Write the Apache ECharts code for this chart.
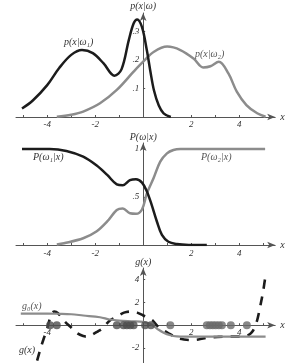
<!DOCTYPE html>
<html>
<head>
<meta charset="utf-8">
<script src="https://cdn.jsdelivr.net/npm/echarts@6/dist/echarts.min.js"></script>
<style>html,body{margin:0;padding:0;background:#fff}#c{width:291px;height:363px}</style>
</head>
<body>
<div id="c"></div>
<script>
// Panel 1: class-conditional densities
const p1X = [-5.05,-4.6,-4.0,-3.5,-3.0,-2.55,-2.1,-1.65,-1.2,-0.9,-0.6,-0.4,-0.25,-0.05,0.15,0.3,0.45,0.65,0.85,1.15];
const p1Y = [0.03,0.058,0.112,0.172,0.218,0.235,0.224,0.188,0.145,0.168,0.27,0.328,0.342,0.315,0.235,0.16,0.093,0.04,0.013,0.0];
const p2X = [-3.6,-3.0,-2.5,-1.8,-1.1,-0.4,0.0,0.45,1.0,1.55,2.1,2.5,2.8,3.15,3.55,3.9,4.3,4.75,5.1];
const p2Y = [0.001,0.008,0.019,0.048,0.095,0.159,0.194,0.229,0.247,0.235,0.205,0.174,0.178,0.194,0.153,0.089,0.042,0.013,0.001];
// Panel 2: posteriors
const post1X = [-5.05,-3.9,-3.2,-2.5,-1.95,-1.5,-1.1,-0.85,-0.55,-0.3,-0.05,0.15,0.35,0.57,0.78,1.05,1.4,1.9,2.65];
const post1Y = [1.0,1.0,0.98,0.92,0.83,0.73,0.632,0.622,0.675,0.685,0.65,0.56,0.42,0.245,0.105,0.034,0.01,0.001,0];
const post2X = [-3.6,-3.3,-2.5,-1.95,-1.5,-1.1,-0.85,-0.55,-0.3,-0.05,0.15,0.43,0.71,0.99,1.26,1.55,2.5,5.08];
const post2Y = [0.005,0.018,0.07,0.14,0.245,0.365,0.38,0.33,0.325,0.37,0.535,0.695,0.868,0.955,0.99,1.0,1.0,1.0];
// Panel 3: discriminants and samples
const g0X = [-5.1,-4.0,-3.5,-3.0,-2.5,-1.8,-1.4,-1.0,-0.5,0.0,0.3,0.57,0.85,1.13,1.4,1.7,2.2,3.0,5.1];
const g0Y = [1.02,1.02,1.0,0.96,0.85,0.7,0.5,0.4,0.34,0.29,0.1,-0.29,-0.65,-0.87,-0.97,-1.0,-1.0,-1.0,-1.0];
const gX = [-4.42,-4.3,-4.15,-4.02,-3.9,-3.8,-3.7,-3.55,-3.3,-3.0,-2.75,-2.5,-2.3,-2.1,-1.9,-1.7,-1.4,-1.1,-0.8,-0.5,-0.25,0.0,0.2,0.4,0.65,0.9,1.1,1.4,1.7,2.0,2.3,2.7,3.1,3.5,3.9,4.2,4.4,4.55,4.68,4.78,4.9,5.0,5.1];
const gY = [-3.1,-2.2,-1.2,-0.45,0.5,1.05,1.2,1.05,0.4,-0.2,-0.7,-0.95,-1.0,-0.8,-0.55,-0.28,0.4,0.75,1.1,1.2,1.1,0.85,0.65,0.4,-0.2,-0.5,-0.75,-1.1,-1.25,-1.3,-1.25,-1.08,-1.02,-1.0,-1.0,-0.98,-0.85,-0.55,0.0,0.7,1.9,3.0,4.4];
const samples1 = [-3.88,-3.6,-1.1,-0.82,-0.68,-0.54,-0.4,0.08,0.32];
const samples2 = [1.13,2.65,2.78,2.9,3.02,3.15,3.28,3.65,4.32];
// tick labels
const xLabels12 = [-4,-2,2,4];
const xLabels3 = [-4,2,4];
const yLabels1 = [0.1,0.2,0.3];
const yLabels2 = [0.5,1];
const yLabels3 = [-2,2,4];

const pairs = (xs, ys) => xs.map((x,i)=>[x, ys[i]]);
const BLACK = '#1c1c1c', GRAY = '#8c8c8c', AX = '#555';
const FONT = {fontFamily:'Liberation Serif', fontStyle:'italic', color:'#333'};
const fmtDot = v => { const s = String(v); return s.startsWith('0.') ? s.slice(1) : s; };

// layout: x from -5.3 to 5.5 across 16..275.2 px
const GL = 16, GR = 15.8, XMIN = -5.3, XMAX = 5.5;
const Y_OFFSET = -(291 - GL - GR) * (0 - XMIN) / (XMAX - XMIN); // move y axes to x = 0

function xAxis(gi, labels, margin, offset) {
  return {
    type:'value', gridIndex:gi, min:XMIN, max:XMAX, position:'bottom', offset:offset||0,
    name:'x', nameLocation:'end', nameGap:5,
    nameTextStyle:Object.assign({fontSize:10}, FONT),
    axisLine:{onZero:false, lineStyle:{color:AX, width:1}, symbol:['none','arrow'], symbolSize:[5,8]},
    axisTick:{show:true, customValues:[-5,-4,-3,-2,-1,1,2,3,4,5], length:2, inside:true, lineStyle:{color:AX}},
    axisLabel:Object.assign({customValues:labels, fontSize:9, margin:margin}, FONT),
    splitLine:{show:false}
  };
}
function yAxis(gi, min, max, labels, name, gap) {
  return {
    type:'value', gridIndex:gi, min:min, max:max, position:'left', offset:Y_OFFSET,
    name:name, nameLocation:'end', nameGap:gap,
    nameTextStyle:Object.assign({fontSize:10, align:'center'}, FONT),
    axisLine:{onZero:false, lineStyle:{color:AX, width:1}, symbol:['none','arrow'], symbolSize:[5,8]},
    axisTick:{show:true, customValues:labels, length:2, inside:true, lineStyle:{color:AX}},
    axisLabel:Object.assign({customValues:labels, fontSize:9, margin:4, formatter:fmtDot}, FONT),
    splitLine:{show:false}
  };
}
function line(xi, data, color, w, extra) {
  return Object.assign({
    type:'line', xAxisIndex:xi, yAxisIndex:xi, data:data, smooth:0.35,
    showSymbol:false, symbol:'none', silent:true,
    lineStyle:{color:color, width:w}
  }, extra||{});
}

const G3_TOP = 268, Y3MIN = -3.3, Y3MAX = 5;
const X3_OFFSET = -(363 - G3_TOP) * (0 - Y3MIN) / (Y3MAX - Y3MIN); // move x axis up to y = 0

const chart = echarts.init(document.getElementById('c'), null, {renderer:'canvas'});
chart.setOption({
  animation:false,
  backgroundColor:'#fff',
  grid:[
    {left:GL, right:GR, top:13, bottom:246},
    {left:GL, right:GR, top:143, bottom:118},
    {left:GL, right:GR, top:G3_TOP, bottom:0}
  ],
  xAxis:[xAxis(0, xLabels12, 3, 0), xAxis(1, xLabels12, 4, 0), xAxis(2, xLabels3, 3, X3_OFFSET)],
  yAxis:[
    yAxis(0, 0, 0.365, yLabels1, 'p(x|ω)', 2),
    yAxis(1, 0, 1.0625, yLabels2, 'P(ω|x)', 1),
    yAxis(2, Y3MIN, Y3MAX, yLabels3, 'g(x)', 1)
  ],
  series:[
    line(0, pairs(p2X,p2Y), GRAY, 2.5),
    line(0, pairs(p1X,p1Y), BLACK, 2.5),
    line(1, pairs(post2X,post2Y), GRAY, 2.5),
    line(1, pairs(post1X,post1Y), BLACK, 2.5),
    line(2, pairs(gX,gY), BLACK, 2.6, {lineStyle:{color:BLACK, width:2.6, type:[9,8]}, z:2}),
    line(2, pairs(g0X,g0Y), GRAY, 2.2, {z:3}),
    {type:'scatter', xAxisIndex:2, yAxisIndex:2, z:4, silent:true, symbolSize:8,
      itemStyle:{color:'#4e4e4e'}, data:samples1.map(x=>[x,0])},
    {type:'scatter', xAxisIndex:2, yAxisIndex:2, z:4, silent:true, symbolSize:8,
      itemStyle:{color:'#6a6a6a'}, data:samples2.map(x=>[x,0])}
  ],
  graphic:[
    {type:'text', left:64, top:37, style:{text:'p(x|ω₁)', fontSize:10, fill:'#333', fontFamily:'Liberation Serif', fontStyle:'italic'}},
    {type:'text', left:195, top:49, style:{text:'p(x|ω₂)', fontSize:10, fill:'#555', fontFamily:'Liberation Serif', fontStyle:'italic'}},
    {type:'text', left:33, top:152, style:{text:'P(ω₁|x)', fontSize:10, fill:'#333', fontFamily:'Liberation Serif', fontStyle:'italic'}},
    {type:'text', left:201, top:152, style:{text:'P(ω₂|x)', fontSize:10, fill:'#555', fontFamily:'Liberation Serif', fontStyle:'italic'}},
    {type:'text', left:22, top:301, style:{text:'g₀(x)', fontSize:10, fill:'#555', fontFamily:'Liberation Serif', fontStyle:'italic'}},
    {type:'text', left:19, top:345, style:{text:'g(x)', fontSize:10, fill:'#333', fontFamily:'Liberation Serif', fontStyle:'italic'}}
  ]
});
</script>
</body>
</html>
